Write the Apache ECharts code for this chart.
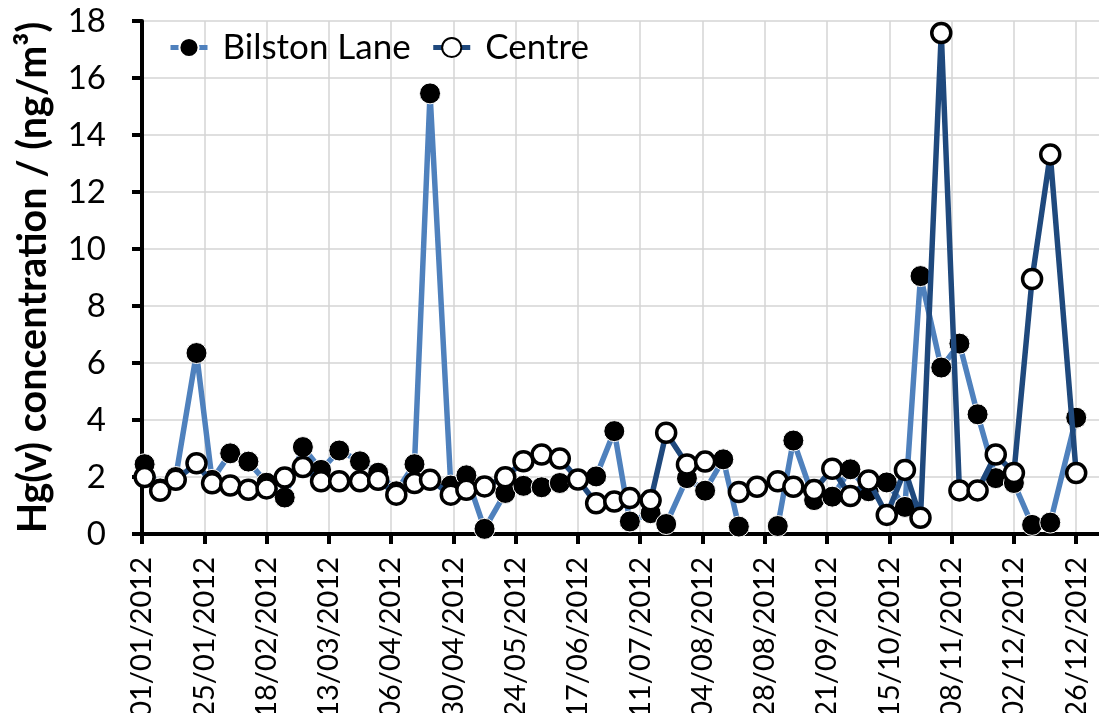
<!DOCTYPE html>
<html>
<head>
<meta charset="utf-8">
<script src="https://cdn.jsdelivr.net/npm/echarts@6/dist/echarts.min.js"></script>
<style>
html, body { margin: 0; padding: 0; background: #fff; overflow: hidden; }
#chart { width: 1099px; height: 713px; }
</style>
</head>
<body>
<div id="chart"></div>
<script>
// sampling dates (approx. weekly)
const sampleDates = [
    '2012-01-02', '2012-01-08', '2012-01-14', '2012-01-22', '2012-01-28', '2012-02-04',
    '2012-02-11', '2012-02-18', '2012-02-25', '2012-03-03', '2012-03-10', '2012-03-17',
    '2012-03-25', '2012-04-01', '2012-04-08', '2012-04-15', '2012-04-21', '2012-04-29',
    '2012-05-05', '2012-05-12', '2012-05-20', '2012-05-27', '2012-06-03', '2012-06-10',
    '2012-06-17', '2012-06-24', '2012-07-01', '2012-07-07', '2012-07-15', '2012-07-21',
    '2012-07-29', '2012-08-05', '2012-08-12', '2012-08-18', '2012-08-25', '2012-09-02',
    '2012-09-08', '2012-09-16', '2012-09-23', '2012-09-30', '2012-10-07', '2012-10-14',
    '2012-10-21', '2012-10-27', '2012-11-04', '2012-11-11', '2012-11-18', '2012-11-25',
    '2012-12-02', '2012-12-09', '2012-12-16', '2012-12-26'
]

// Hg(v) ng/m3, null = no sample
const bilstonLane = [
    2.45, 1.6, 2.0, 6.35, 1.9, 2.83, 2.54, 1.8, 1.28, 3.05, 2.25, 2.93,
    2.55, 2.15, 1.5, 2.45, 15.46, 1.7, 2.06, 0.18, 1.44, 1.69, 1.64, 1.79,
    1.9, 2.02, 3.61, 0.44, 0.73, 0.35, 1.96, 1.52, 2.62, 0.26, null, 0.28,
    3.28, 1.19, 1.31, 2.27, 1.5, 1.81, 0.95, 9.05, 5.84, 6.68, 4.2, 1.96,
    1.79, 0.32, 0.4, 4.08
]
const centre = [
    2.0, 1.52, 1.9, 2.48, 1.78, 1.7, 1.55, 1.6, 1.98, 2.35, 1.85, 1.85,
    1.85, 1.9, 1.38, 1.79, 1.9, 1.38, 1.55, 1.67, 1.99, 2.55, 2.79, 2.65,
    1.91, 1.08, 1.14, 1.26, 1.18, 3.55, 2.44, 2.54, null, 1.47, 1.66, 1.85,
    1.66, 1.54, 2.29, 1.33, 1.88, 0.67, 2.25, 0.57, 17.58, 1.53, 1.53, 2.79,
    2.14, 8.95, 13.32, 2.14
]

const xTickLabels = [
    '01/01/2012', '25/01/2012', '18/02/2012', '13/03/2012', '06/04/2012', '30/04/2012',
    '24/05/2012', '17/06/2012', '11/07/2012', '04/08/2012', '28/08/2012', '21/09/2012',
    '15/10/2012', '08/11/2012', '02/12/2012', '26/12/2012'
]
const xTickStep = 24 // days
const xTickValues = xTickLabels.map((_, i) => i * xTickStep)

const startMs = Date.UTC(2012, 0, 1)
const dayOf = (s) => {
    const p = s.split('-').map(Number)
    return (Date.UTC(p[0], p[1] - 1, p[2]) - startMs) / 86400000
}
const toPairs = (vals) => sampleDates.map((d, i) => [dayOf(d), vals[i] == null ? '-' : vals[i]])

const font = 'Lato, "Open Sans", sans-serif'
const chart = echarts.init(document.getElementById('chart'), null, {renderer: 'canvas'})

const option = {
    animation: false,
    backgroundColor: '#fff',
    grid: {
        left: 142,
        top: 21,
        right: -81,
        bottom: 179,
        outerBoundsMode: 'none',
        containLabel: false
    },
    legend: {
        data: ['Bilston Lane', 'Centre'],
        left: 163,
        top: 25,
        itemWidth: 37,
        itemHeight: 24,
        itemGap: 20,
        lineStyle: {width: 5},
        textStyle: {
            fontFamily: font,
            fontSize: 35,
            color: '#000',
            padding: [0, 0, 0, 10]
        }
    },
    xAxis: [
        {
            type: 'value',
            min: 0,
            max: 400,
            interval: xTickStep,
            axisLine: {
                show: true,
                onZero: false,
                lineStyle: {color: '#000', width: 4}
            },
            axisTick: {
                show: true,
                length: 10,
                customValues: xTickValues,
                lineStyle: {color: '#000', width: 4}
            },
            axisLabel: {
                rotate: 90,
                margin: 23,
                fontFamily: font,
                fontSize: 29,
                color: '#000',
                customValues: xTickValues,
                formatter: (v) => xTickLabels[Math.round(v / xTickStep)] || ''
            },
            splitLine: {
                show: true,
                lineStyle: {color: '#d4d4d4', width: 1.5}
            }
        },
        {
            // plot-area top border
            type: 'value',
            position: 'top',
            min: 0,
            max: 400,
            axisLine: {show: true, lineStyle: {color: '#000', width: 4}},
            axisTick: {show: false},
            axisLabel: {show: false},
            splitLine: {show: false}
        }
    ],
    yAxis: {
        type: 'value',
        min: 0,
        max: 18,
        interval: 2,
        name: 'Hg(v) concentration / (ng/m³)',
        nameLocation: 'middle',
        nameGap: 89,
        nameTextStyle: {
            fontFamily: font,
            fontSize: 39.5,
            fontWeight: 'bold',
            color: '#000'
        },
        axisLine: {
            show: true,
            lineStyle: {color: '#000', width: 4}
        },
        axisTick: {
            show: true,
            length: 10,
            lineStyle: {color: '#000', width: 4}
        },
        axisLabel: {
            margin: 36,
            fontFamily: font,
            fontSize: 33,
            color: '#000'
        },
        splitLine: {
            show: true,
            lineStyle: {color: '#d4d4d4', width: 1.5}
        }
    },
    series: [
        {
            name: 'Bilston Lane',
            type: 'line',
            data: toPairs(bilstonLane),
            z: 2,
            symbol: 'circle',
            symbolSize: 21,
            lineStyle: {color: '#4f81bd', width: 5.5},
            itemStyle: {color: '#000', borderColor: '#fff', borderWidth: 1}
        },
        {
            name: 'Centre',
            type: 'line',
            data: toPairs(centre),
            z: 3,
            symbol: 'circle',
            symbolSize: 19,
            lineStyle: {color: '#1f497d', width: 5.5},
            itemStyle: {color: '#fff', borderColor: '#000', borderWidth: 3.5}
        }
    ]
}

chart.setOption(option)
</script>
</body>
</html>
